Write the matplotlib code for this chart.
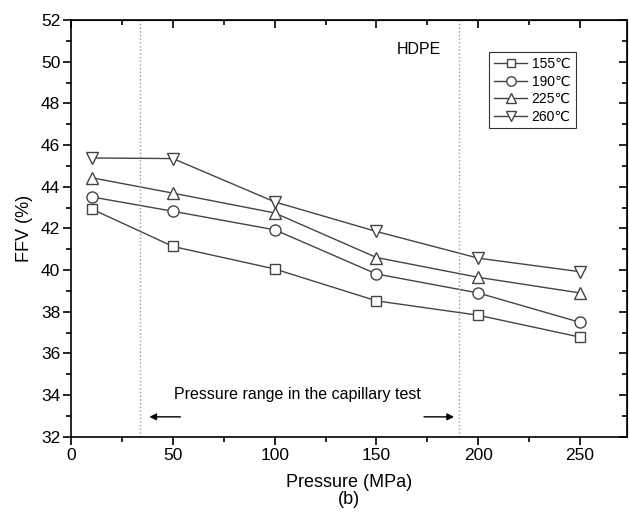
import matplotlib.pyplot as plt

plt.rcParams['font.family'] = ['Liberation Sans', 'DejaVu Sans']

pressure = [10, 50, 100, 150, 200, 250]
ffv_155 = [42.93, 41.13, 40.05, 38.52, 37.83, 36.78]
ffv_190 = [43.51, 42.82, 41.93, 39.81, 38.90, 37.49]
ffv_225 = [44.43, 43.69, 42.74, 40.60, 39.65, 38.90]
ffv_260 = [45.38, 45.35, 43.27, 41.85, 40.57, 39.92]
labels = ['155\u2103', '190\u2103', '225\u2103', '260\u2103']
markers = ['s', 'o', '^', 'v']
sizes = [7, 8, 8.5, 8.5]

fig = plt.figure(figsize=(6.29, 5.28), dpi=100)
ax = fig.add_axes([0.1134, 0.173, 0.8829, 0.789])

for ys, m, s, lab in zip([ffv_155, ffv_190, ffv_225, ffv_260], markers, sizes, labels):
    ax.plot(pressure, ys, color='#444444', lw=1.0, marker=m, ms=s,
            mfc='white', mec='#444444', mew=1.0, label=lab)

ax.axvline(34, color='#999999', ls=':', lw=1.0)
ax.axvline(190.5, color='#999999', ls=':', lw=1.0)

ax.text(111, 34.0, 'Pressure range in the capillary test', ha='center', va='center', fontsize=11.5)
ax.annotate('', xy=(37, 32.95), xytext=(55, 32.95),
            arrowprops=dict(arrowstyle='-|>', color='black', lw=1.0, mutation_scale=10))
ax.annotate('', xy=(189.5, 32.95), xytext=(172, 32.95),
            arrowprops=dict(arrowstyle='-|>', color='black', lw=1.0, mutation_scale=10))
ax.text(171, 50.6, 'HDPE', ha='center', va='center', fontsize=11.5)

ax.set_xlim(0, 273)
ax.set_ylim(32, 52)
ax.set_xticks([0, 50, 100, 150, 200, 250])
ax.set_xticks(range(25, 275, 50), minor=True)
ax.set_yticks(range(32, 53, 2))
ax.set_yticks(range(33, 52, 2), minor=True)
ax.tick_params(which='major', direction='out', length=6, width=1.2, labelsize=12.5, pad=2)
ax.tick_params(which='minor', direction='out', length=3.5, width=1.2)
for s in ax.spines.values():
    s.set_linewidth(1.2)

top = ax.secondary_xaxis('top')
top.set_xticks([0, 50, 100, 150, 200, 250])
top.set_xticks(range(25, 275, 50), minor=True)
top.tick_params(which='both', direction='in', labeltop=False, width=1.2)
top.tick_params(which='major', length=6)
top.tick_params(which='minor', length=3.5)
right = ax.secondary_yaxis('right')
right.set_yticks(range(32, 53, 2))
right.set_yticks(range(33, 52, 2), minor=True)
right.tick_params(which='both', direction='in', labelright=False, width=1.2)
right.tick_params(which='major', length=6)
right.tick_params(which='minor', length=3.5)

ax.set_xlabel('Pressure (MPa)\n(b)', fontsize=13, labelpad=8, linespacing=1.0)
ax.set_ylabel('FFV (%)', fontsize=13, labelpad=6)

leg = ax.legend(loc='upper right', bbox_to_anchor=(0.908, 0.923), fontsize=10,
                frameon=True, fancybox=False, edgecolor='black', handlelength=2.4,
                borderpad=0.35, labelspacing=0.25, handletextpad=0.3,
                markerscale=0.85, borderaxespad=0)
leg.get_frame().set_linewidth(0.8)

fig.savefig('out.png', dpi=100)
